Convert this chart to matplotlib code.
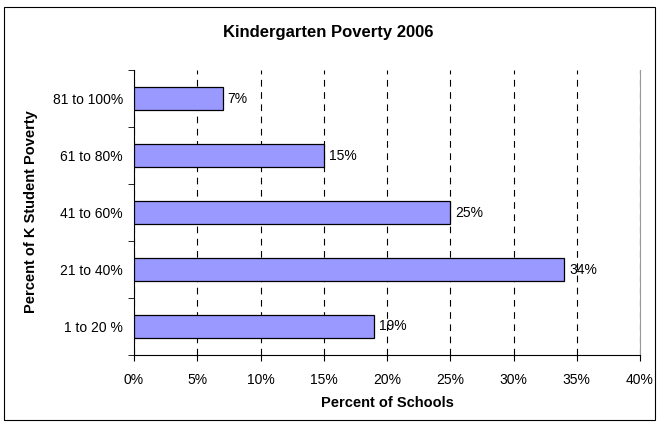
import matplotlib.pyplot as plt
from matplotlib.patches import Rectangle
from matplotlib.ticker import FixedLocator

categories = ["1 to 20 %", "21 to 40%", "41 to 60%", "61 to 80%", "81 to 100%"]
values = [19, 34, 25, 15, 7]
xticks = [0, 5, 10, 15, 20, 25, 30, 35, 40]

plt.rcParams['font.family'] = ['Liberation Sans', 'DejaVu Sans']

fig = plt.figure(figsize=(6.59, 4.25), dpi=100)
ax = fig.add_axes([134 / 659, 1 - 355 / 425, (640 - 134) / 659, (355 - 70) / 425])

pos = list(range(len(categories)))
ax.barh(pos, values, height=0.4, color="#9999FF", edgecolor="black", linewidth=0.9, zorder=3)
for p, v in zip(pos, values):
    ax.text(v + 0.4, p, f"{v}%", va="center", ha="left", fontsize=10, zorder=4)

ax.set_xlim(0, 40)
ax.set_ylim(-0.5, len(categories) - 0.5)
ax.set_xticks(xticks)
ax.set_xticklabels([f"{t}%" for t in xticks], fontsize=10)
ax.set_yticks(pos)
ax.set_yticklabels(categories, fontsize=10)
ax.yaxis.set_minor_locator(FixedLocator([p - 0.5 for p in pos] + [len(pos) - 0.5]))
ax.tick_params(axis="y", which="major", length=0, pad=8)
ax.tick_params(axis="y", which="minor", length=4, direction="out")
ax.tick_params(axis="x", length=4, direction="out", pad=9)

ax.grid(axis="x", linestyle=(0, (6, 5)), color="black", linewidth=0.8, zorder=0)
ax.spines["top"].set_visible(False)
ax.spines["right"].set_color("#999999")
ax.spines["left"].set_color("black")
ax.spines["bottom"].set_color("black")

fig.text(328 / 659, 1 - 32 / 425, "Kindergarten Poverty 2006", fontsize=12, fontweight="bold",
         ha="center", va="center")
fig.text(387 / 659, 1 - 403 / 425, "Percent of Schools", fontsize=10.5, fontweight="bold",
         ha="center", va="center")
fig.text(31 / 659, 1 - 212 / 425, "Percent of K Student Poverty", fontsize=10.5, fontweight="bold",
         ha="center", va="center", rotation=90)

fig.patches.append(Rectangle((4 / 659, 5 / 425), 651 / 659, 413 / 425, transform=fig.transFigure,
                             fill=False, edgecolor="black", linewidth=0.8))

fig.savefig("out.png", dpi=100)
